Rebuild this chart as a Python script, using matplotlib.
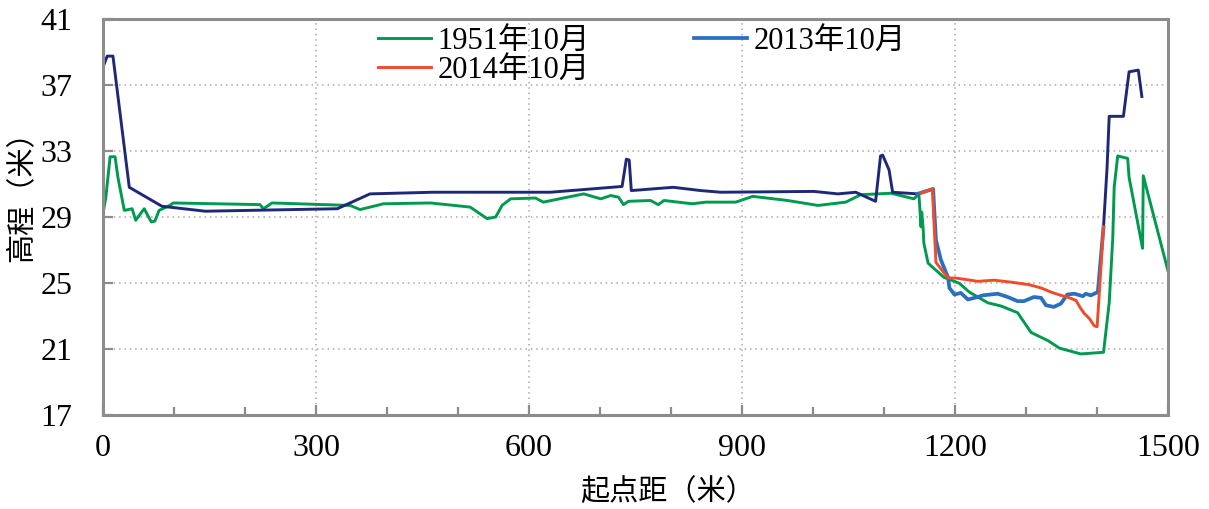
import numpy as np
import matplotlib
matplotlib.use("Agg")
import matplotlib.pyplot as plt
from matplotlib.ticker import MultipleLocator

plt.rcParams['font.family'] = ['Liberation Serif', 'Noto Sans CJK SC']

# 1951年10月 cross-section
dist_1951 = [0, 4, 10, 17, 21, 30, 41, 46, 58, 68, 73, 79, 94, 99, 221, 226, 238, 348, 362, 395,
             461, 517, 541, 553, 562, 574, 609, 620, 677, 701, 715, 726, 733, 740, 771, 782, 790,
             830, 849, 891, 915, 964, 1007, 1046, 1067, 1110, 1142, 1149, 1152, 1153, 1155, 1156,
             1162, 1184, 1206, 1220, 1246, 1265, 1288, 1307, 1331, 1347, 1377, 1409, 1417, 1422,
             1424, 1429, 1443, 1445, 1464, 1465, 1500]
elev_1951 = [29.2, 30.2, 32.65, 32.65, 31.4, 29.4, 29.5, 28.8, 29.5, 28.7, 28.75, 29.4, 29.7, 29.85,
             29.75, 29.5, 29.85, 29.7, 29.45, 29.8, 29.85, 29.6, 28.9, 29.0, 29.7, 30.1, 30.15, 29.9,
             30.4, 30.1, 30.3, 30.2, 29.75, 29.95, 30.0, 29.75, 30.0, 29.8, 29.9, 29.9, 30.25, 30.0,
             29.7, 29.9, 30.35, 30.44, 30.1, 30.4, 28.4, 29.3, 28.3, 27.4, 26.2, 25.35, 24.98, 24.45,
             23.8, 23.6, 23.2, 22.0, 21.5, 21.05, 20.7, 20.8, 23.8, 27.7, 30.8, 32.7, 32.55, 31.4,
             27.1, 31.5, 25.7]

# 2013年10月 cross-section (banks + channel)
dist_2013 = [0, 6, 14, 37, 83, 144, 330, 376, 465, 630, 731, 737, 741, 744, 803, 842, 870, 1001,
             1035, 1060, 1088, 1095, 1098, 1107, 1112, 1147, 1169, 1173, 1180, 1187, 1190, 1192,
             1199, 1208, 1218, 1232, 1239, 1260, 1274, 1288, 1297, 1311, 1321, 1328, 1339, 1349,
             1358, 1368, 1380, 1384, 1391, 1401, 1409, 1414, 1417, 1437, 1445, 1458, 1463]
elev_2013 = [38.1, 38.75, 38.75, 30.8, 29.65, 29.35, 29.5, 30.4, 30.5, 30.5, 30.85, 32.5, 32.45,
             30.6, 30.8, 30.6, 30.5, 30.55, 30.4, 30.5, 29.95, 32.7, 32.75, 31.85, 30.5, 30.4, 30.7,
             27.6, 26.4, 25.65, 25.35, 24.7, 24.3, 24.4, 24.0, 24.15, 24.25, 24.35, 24.15, 23.9,
             23.9, 24.15, 24.1, 23.65, 23.55, 23.75, 24.3, 24.35, 24.2, 24.35, 24.25, 24.45, 28.4,
             32.0, 35.1, 35.1, 37.8, 37.9, 36.3]
channel_2013 = (1147, 1409)

# 2014年10月 channel survey
dist_2014 = [1152, 1168, 1173, 1190, 1201, 1232, 1255, 1279, 1304, 1321, 1335, 1349, 1358, 1370,
             1377, 1382, 1389, 1396, 1400, 1409]
elev_2014 = [30.45, 30.7, 26.25, 25.3, 25.3, 25.1, 25.17, 25.05, 24.9, 24.7, 24.45, 24.25, 24.15,
             23.95, 23.45, 23.15, 22.85, 22.4, 22.35, 28.4]

yticks = [17, 21, 25, 29, 33, 37, 41]

green = '#009a4e'
navy = '#1f2878'
blue = '#2a6fc0'
red = '#f04b2a'
gray = '#8c8c8c'
lw = 2.1

fig = plt.figure(figsize=(12.09, 5.09), dpi=100)
ax = fig.add_axes([0.0852, 0.1847, 0.881, 0.778])

d13 = np.array(dist_2013)
e13 = np.array(elev_2013)
left = d13 <= channel_2013[0]
mid = (d13 >= channel_2013[0]) & (d13 <= channel_2013[1])
right = d13 >= channel_2013[1]

l1, = ax.plot(dist_1951, elev_1951, color=green, lw=lw, label='1951年10月')
ax.plot(d13[left], e13[left], color=navy, lw=lw)
ax.plot(d13[right], e13[right], color=navy, lw=lw)
l2, = ax.plot(d13[mid], e13[mid], color=blue, lw=lw + 0.6, label='2013年10月')
l3, = ax.plot(dist_2014, elev_2014, color=red, lw=lw, label='2014年10月')

ax.set_xlim(0, 1500)
ax.set_ylim(17, 41)
ax.xaxis.set_major_locator(MultipleLocator(300))
ax.xaxis.set_minor_locator(MultipleLocator(100))
ax.set_yticks(yticks)
ax.grid(True, which='major', color='#a8a8a8', linestyle=(0, (1, 2.5)), lw=1.1)

for s in ax.spines.values():
    s.set_color(gray)
    s.set_linewidth(2.2)
ax.tick_params(which='both', direction='in', color=gray, width=1.6, labelsize=23)
ax.tick_params(which='major', length=7)
ax.tick_params(which='minor', length=6)
ax.tick_params(axis='x', pad=14)
ax.tick_params(axis='y', pad=22)

ax.set_xlabel('起点距（米）', fontsize=21)
ax.set_ylabel('高程（米）', fontsize=21)
ax.xaxis.set_label_coords(0.53, -0.16)
ax.yaxis.set_label_coords(-0.063, 0.57)

ax.legend(handles=[l1, l3, l2], ncol=2, frameon=False, fontsize=22,
          loc='upper left', bbox_to_anchor=(0.238, 1.035), handlelength=1.75,
          handletextpad=0.2, columnspacing=3.4, labelspacing=0.0, borderpad=0.2)

fig.savefig('out.png', dpi=100)
